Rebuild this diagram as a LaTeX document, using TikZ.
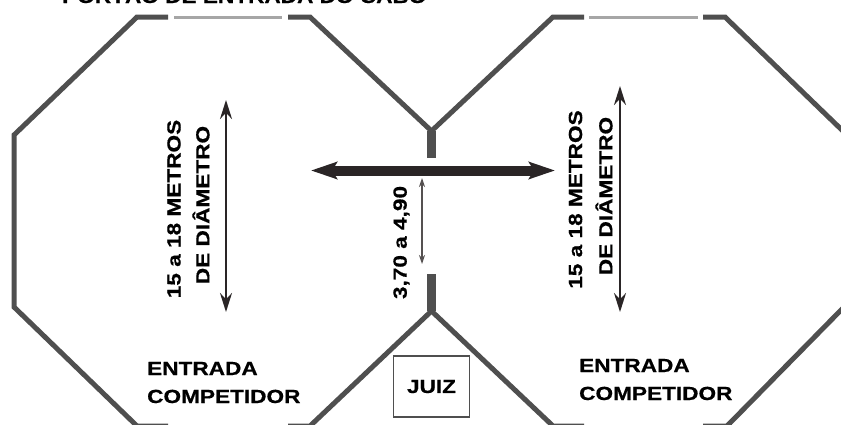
\documentclass[tikz,border=0pt]{standalone}
\usepackage{fontspec}
\setmainfont{Liberation Sans}
\newfontfamily\wideb[FakeStretch=1.19,FakeBold=0.6]{Liberation Sans Bold}
\usetikzlibrary{arrows.meta}
\definecolor{wallc}{HTML}{4F4F4F}
\definecolor{gatec}{HTML}{A6A6A6}
\definecolor{arrowc}{HTML}{2A2526}
\tikzset{
  x=1pt,y=-1pt,
  wall/.style={draw=wallc,line width=5pt,line join=miter},
  gate/.style={draw=gatec,line width=3pt},
  stem/.style={draw=wallc,line width=9pt},
  dimarrow/.style={draw=arrowc,line width=2pt,{Stealth[length=19pt,width=12pt]}-{Stealth[length=19pt,width=12pt]}},
  thinarrow/.style={draw=arrowc!80,line width=1.2pt,{Stealth[length=9pt,width=6pt]}-{Stealth[length=9pt,width=6pt]}},
  bigarrow/.style={draw=arrowc,line width=10pt,{Stealth[length=26pt,width=17pt,inset=5pt]}-{Stealth[length=26pt,width=17pt,inset=5pt]}},
  lab/.style={font=\wideb\fontsize{19}{19}\selectfont,text=black,inner sep=0pt,anchor=center},
  vlab/.style={lab,rotate=90},
  judgebox/.style={draw=wallc,line width=1.6pt,fill=white,minimum width=76pt,minimum height=61pt,inner sep=0pt,font=\wideb\fontsize{19}{19}\selectfont}
}
\begin{document}
\begin{tikzpicture}
\useasboundingbox (0,0) rectangle (841,424);
\clip (0,0) rectangle (841,424);
\fill[white] (0,0) rectangle (841,424);
% left octagon
\coordinate (la) at (168,17);
\coordinate (lb) at (137,17);
\coordinate (lc) at (14,135);
\coordinate (ld) at (14,307);
\coordinate (le) at (137,426);
\coordinate (lf) at (168,426);
\coordinate (lg) at (288,17);
\coordinate (lh) at (310,17);
\coordinate (top) at (431.5,131);
\coordinate (bot) at (431.5,311);
\coordinate (li) at (288,426);
\coordinate (lj) at (310,426);
\draw[wall] (la)--(lb)--(lc)--(ld)--(le)--(lf);
\draw[wall] (lg)--(lh)--(top);
\draw[wall] (li)--(lj)--(bot);
\draw[gate] (174,17)--(282,17);
\draw[gate] (174,426)--(282,426);
% right octagon
\coordinate (ra) at (584,17);
\coordinate (rb) at (553,17);
\coordinate (rc) at (703,17);
\coordinate (rd) at (725,17);
\coordinate (re) at (845,133);
\coordinate (rf) at (845,306);
\coordinate (rg) at (727,426);
\coordinate (rh) at (703,426);
\coordinate (ri) at (553,426);
\coordinate (rj) at (584,426);
\draw[wall] (ra)--(rb)--(top);
\draw[wall] (rc)--(rd)--(re)--(rf)--(rg)--(rh);
\draw[wall] (rj)--(ri)--(bot);
\draw[gate] (589,17)--(698,17);
\draw[gate] (589,426)--(698,426);
% stems
\coordinate (st) at (431.5,158);
\coordinate (sb) at (431.5,274);
\draw[stem] (top)--(st);
\draw[stem] (bot)--(sb);
% arrows
\coordinate (h1) at (311,170.5);
\coordinate (h2) at (555,170.5);
\draw[bigarrow] (h1)--(h2);
\coordinate (v1a) at (226,100);
\coordinate (v1b) at (226,312);
\draw[dimarrow] (v1a)--(v1b);
\coordinate (v2a) at (620,86);
\coordinate (v2b) at (620,312);
\draw[dimarrow] (v2a)--(v2b);
\coordinate (v3a) at (422,178);
\coordinate (v3b) at (422,264);
\draw[thinarrow] (v3a)--(v3b);
% labels
\node[lab,anchor=base west] (title) at (62,3) {PORTÃO DE ENTRADA DO CABO};
\node[vlab] (l1) at (174,209) {15 a 18 METROS};
\node[vlab] (l2) at (201,205) {DE DIÂMETRO};
\node[vlab] (r1) at (575.5,199.5) {15 a 18 METROS};
\node[vlab] (r2) at (604,196) {DE DIÂMETRO};
\node[vlab] (mid) at (401.5,242.5) {3,70 a 4,90};
\node[lab,anchor=base west] (e1) at (147,375) {ENTRADA};
\node[lab,anchor=base west] (c1) at (147,403) {COMPETIDOR};
\node[lab,anchor=base west] (e2) at (579,372) {ENTRADA};
\node[lab,anchor=base west] (c2) at (579,400) {COMPETIDOR};
\node[judgebox] (juiz) at (431.5,386.5) {JUIZ};
\end{tikzpicture}
\end{document}
